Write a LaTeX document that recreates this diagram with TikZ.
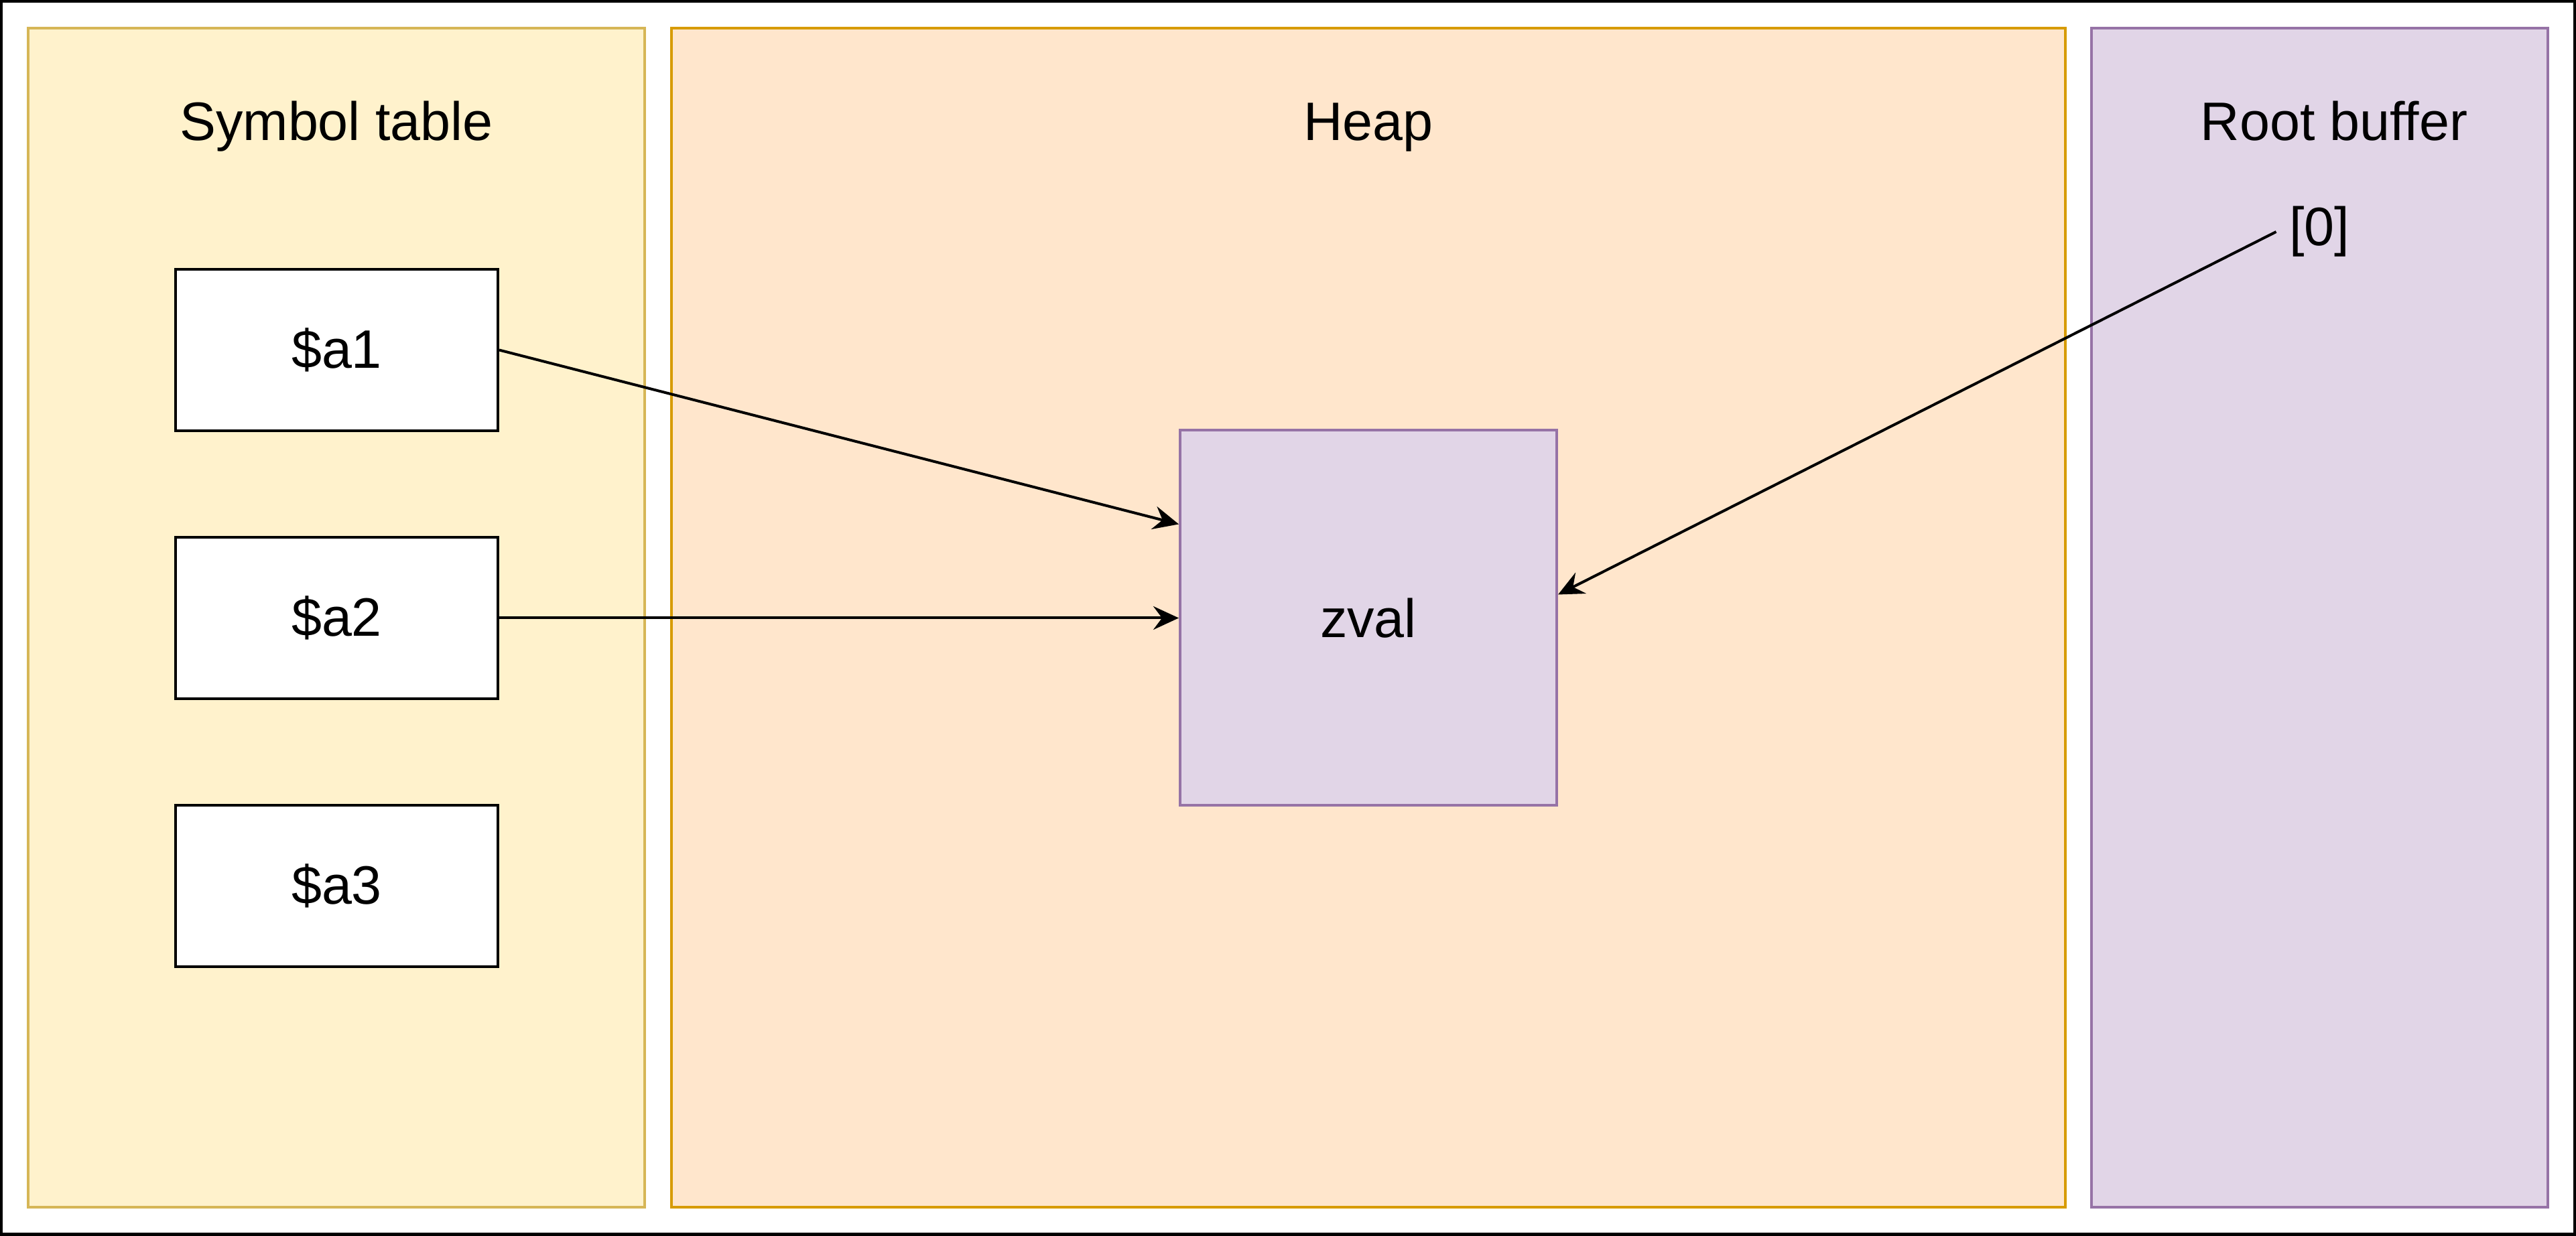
\documentclass[tikz,border=0pt]{standalone}
\usepackage{fontspec}
\setmainfont{Liberation Sans}
\usetikzlibrary{arrows.meta}
\definecolor{symfill}{HTML}{FFF2CC}
\definecolor{symline}{HTML}{D6B656}
\definecolor{heapfill}{HTML}{FFE6CC}
\definecolor{heapline}{HTML}{D79B00}
\definecolor{rootfill}{HTML}{E1D5E7}
\definecolor{rootline}{HTML}{9673A6}

\begin{document}
\begin{tikzpicture}[font=\fontsize{23}{27}\selectfont, line width=0.04cm,
  varbox/.style={draw, fill=white, minimum width=4.81cm, minimum height=2.41cm},
  title/.style={anchor=base},
  ptr/.style={-{Stealth[length=3.8mm, width=3.5mm, inset=1.3mm]}}]
\useasboundingbox (0,0) rectangle (38.44,18.44);
\fill[white] (0,0) rectangle (38.44,18.44);
\draw[line width=0.08cm] (0,0) rectangle (38.44,18.44);
% the three regions
\draw[fill=symfill, draw=symline] (0.42,0.42) rectangle (9.62,18.02);
\node[title] (symtitle) at (5.02,16.34) {Symbol table};
\draw[fill=heapfill, draw=heapline] (10.02,0.42) rectangle (30.82,18.02);
\node[title] (heaptitle) at (20.42,16.34) {Heap};
\draw[fill=rootfill, draw=rootline] (31.21,0.42) rectangle (38.02,18.02);
\node[title] (roottitle) at (34.83,16.34) {Root buffer};
% variables
\node[varbox] (a1) at (5.025,13.215) {\$a1};
\node[varbox] (a2) at (5.025,9.215) {\$a2};
\node[varbox] (a3) at (5.025,5.215) {\$a3};
% the value
\node[draw=rootline, fill=rootfill, minimum width=5.62cm, minimum height=5.6cm] (zval) at (20.42,9.215) {zval};
\node[inner sep=5pt] (r0) at (34.61,14.98) {[0]};
\draw[ptr] (a1.east) -- ([yshift=1.4cm]zval.west);
\draw[ptr] (a2.east) -- (zval.west);
\draw[ptr] (r0.west) -- ([yshift=0.35cm]zval.east);
\end{tikzpicture}
\end{document}
